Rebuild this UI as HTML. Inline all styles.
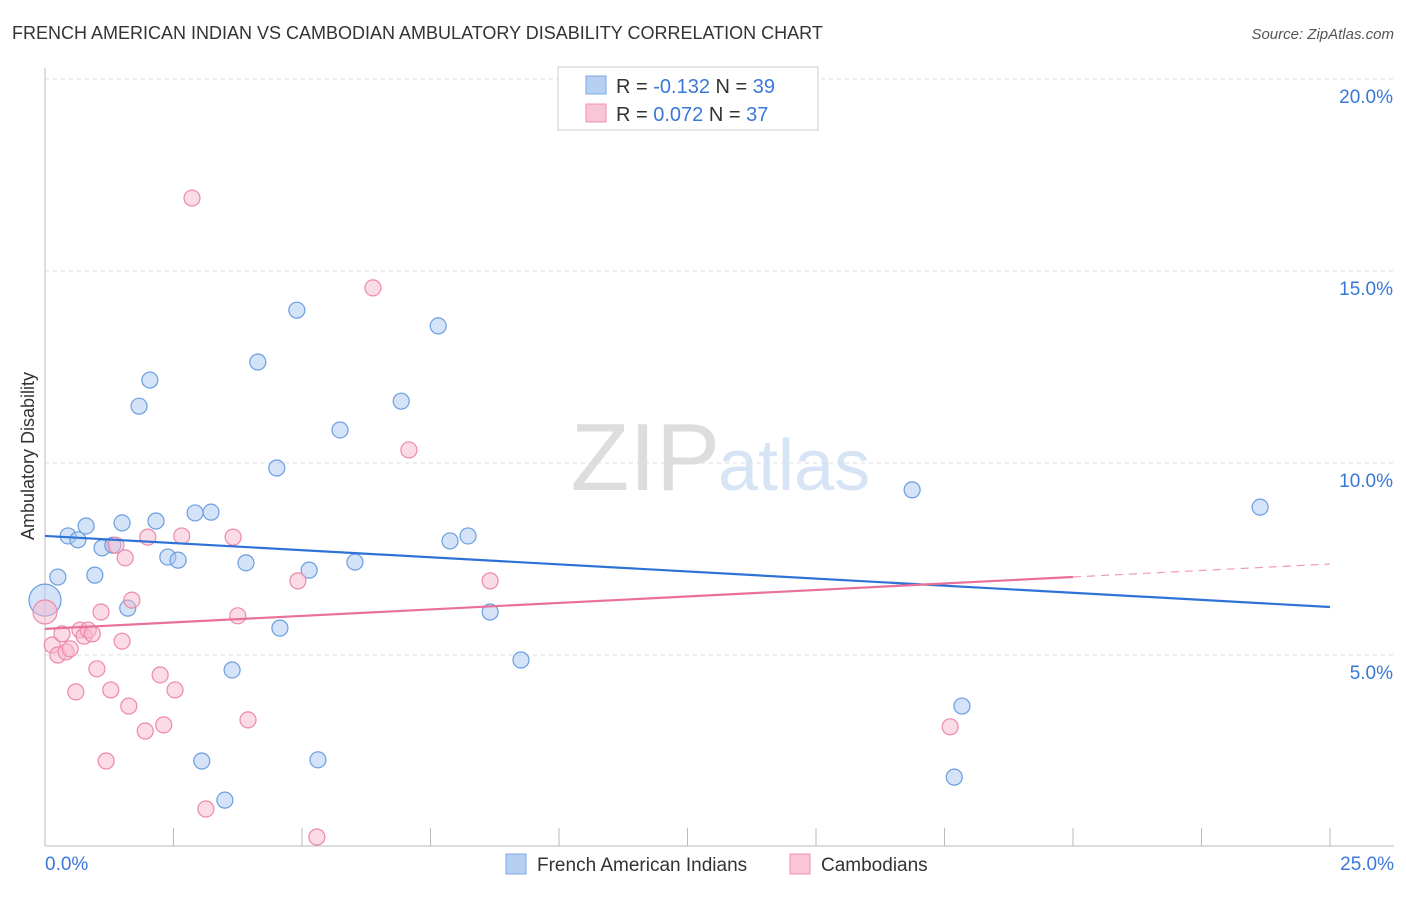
<!DOCTYPE html>
<html><head><meta charset="utf-8">
<style>
body{margin:0;background:#fff;font-family:"Liberation Sans",sans-serif;}
svg text{font-family:"Liberation Sans",sans-serif;}
</style></head>
<body>
<svg width="1406" height="892" xmlns="http://www.w3.org/2000/svg">
<text x="12" y="39" font-size="18" fill="#333">FRENCH AMERICAN INDIAN VS CAMBODIAN AMBULATORY DISABILITY CORRELATION CHART</text>
<text x="1394" y="39" font-size="15" fill="#555" font-style="italic" text-anchor="end">Source: ZipAtlas.com</text>
<text x="720" y="490" font-size="96" fill="#ddd" font-family="Liberation Serif" text-anchor="end">ZIP</text>
<text x="718" y="490" font-size="72" fill="#d6e4f5">atlas</text>
<g id="grid"></g>
<g id="axes"></g>
<text transform="translate(34,456) rotate(-90)" font-size="18" fill="#333" text-anchor="middle">Ambulatory Disability</text>
<g id="pts"></g>
<g id="trends"></g>
<g>
<rect x="558" y="67" width="260" height="63" fill="#fff" stroke="#ccc"/>
<rect x="586" y="76" width="20" height="18" fill="#b6d0f3" stroke="#7aa8e0"/>
<rect x="586" y="104" width="20" height="18" fill="#f9c6d6" stroke="#f090b0"/>
<text x="616" y="93" font-size="20" fill="#333">R = <tspan fill="#3a78d8">-0.132</tspan>   N = <tspan fill="#3a78d8">39</tspan></text>
<text x="616" y="121" font-size="20" fill="#333">R =  <tspan fill="#3a78d8">0.072</tspan>   N = <tspan fill="#3a78d8">37</tspan></text>
</g>
<g>
<rect x="506" y="854" width="20" height="20" fill="#b6d0f3" stroke="#7aa8e0"/>
<text x="537" y="871" font-size="19" fill="#333">French American Indians</text>
<rect x="790" y="854" width="20" height="20" fill="#f9c6d6" stroke="#f090b0"/>
<text x="821" y="871" font-size="19" fill="#333">Cambodians</text>
</g>
</svg>
<script>
const blueX=[0,0.25,0.45,0.64,0.8,0.97,1.11,1.32,1.5,1.61,1.83,2.04,2.16,2.39,2.59,2.92,3.05,3.23,3.5,3.64,3.91,4.14,4.51,4.57,4.9,5.14,5.31,5.74,6.03,6.93,7.65,7.88,8.23,8.66,9.26,16.87,17.69,17.84,23.64];
const blueY=[6.43,7.03,8.1,8.0,8.36,7.08,7.79,7.86,8.44,6.22,11.48,12.16,8.49,7.55,7.47,8.7,2.24,8.72,1.22,4.61,7.4,12.63,9.87,5.7,13.98,7.21,2.27,10.86,7.42,11.61,13.57,7.97,8.1,6.12,4.87,9.3,1.82,3.67,8.85];
const pinkX=[0,0.14,0.25,0.33,0.41,0.49,0.6,0.68,0.76,0.84,0.92,1.01,1.09,1.19,1.28,1.38,1.5,1.56,1.63,1.69,1.95,2.0,2.24,2.31,2.53,2.66,2.86,3.13,3.66,3.75,3.95,4.92,5.29,6.38,7.08,8.66,17.61];
const pinkY=[6.12,5.26,5.0,5.55,5.08,5.16,4.04,5.65,5.49,5.65,5.55,4.64,6.12,2.24,4.09,7.86,5.36,7.53,3.67,6.43,3.02,8.07,4.48,3.18,4.09,8.1,16.9,0.99,8.07,6.02,3.31,6.93,0.26,14.56,10.34,6.93,3.13];
const blueTrend=[8.10,6.25];
const pinkTrend=[5.68,7.37];
const yTicks=[5,10,15,20];
const xTicks=[0,2.5,5,7.5,10,12.5,15,17.5,20,22.5,25];
const NS="http://www.w3.org/2000/svg";
const xs=v=>45+v/25*1285, ys=v=>847-v*38.4;
function mk(t,a,p){const e=document.createElementNS(NS,t);for(const k in a)e.setAttribute(k,a[k]);p.appendChild(e);return e;}
const grid=document.getElementById('grid'),axes=document.getElementById('axes');
yTicks.forEach(v=>{
 const l=mk('line',{x1:45,x2:1394,y1:ys(v),y2:ys(v),stroke:'#ddd','stroke-dasharray':'4,4'},grid);
 
 
 const t=mk('text',{x:1393,y:ys(v)+24,'font-size':19,fill:'#3a78d8','text-anchor':'end'},axes);
 t.textContent=v.toFixed(1)+'%';
 
 
});
const ax=mk('line',{x1:45,x2:1394,y1:846,y2:846,stroke:'#bbb'},axes);


const ay=mk('line',{x1:45,x2:45,y1:68,y2:846,stroke:'#bbb'},axes);


xTicks.forEach(v=>{
 const l=mk('line',{x1:xs(v),x2:xs(v),y1:828,y2:846,stroke:'#bbb'},axes);
 
 
});
[[0,'start',45],[25,'end',1394]].forEach(([v,a,x])=>{
 const t=mk('text',{x:x,y:870,'font-size':19,fill:'#3a78d8','text-anchor':a},axes);
 t.textContent=v.toFixed(1)+'%';
 
 
});
const pts=document.getElementById('pts');
function dots(X,Y,fill,stroke,name){
 X.forEach((x,i)=>{
  const r=(i==0)?(name=='blue-point'?16:12):8;
  const c=mk('circle',{cx:xs(x),cy:ys(Y[i]),r:r,fill:fill,'fill-opacity':0.5,stroke:stroke,'stroke-width':1.2},pts);
  
  
 });
}
dots(blueX,blueY,'#a9c8f0','#6a9ee0','blue-point');
dots(pinkX,pinkY,'#f7b8cc','#ee88aa','pink-point');
const tr=document.getElementById('trends');
const bl=mk('line',{x1:xs(0),y1:ys(blueTrend[0]),x2:xs(25),y2:ys(blueTrend[1]),stroke:'#2f72d6','stroke-width':2.2},tr);


const pm=v=>pinkTrend[0]+(pinkTrend[1]-pinkTrend[0])*v/25;
const pl=mk('line',{x1:xs(0),y1:ys(pm(0)),x2:xs(20),y2:ys(pm(20)),stroke:'#e8709a','stroke-width':2.2},tr);


const pd=mk('line',{x1:xs(20),y1:ys(pm(20)),x2:xs(25),y2:ys(pm(25)),stroke:'#e8709a','stroke-width':1.2,'stroke-dasharray':'8,6','stroke-opacity':0.7},tr);


</script>
</body></html>
